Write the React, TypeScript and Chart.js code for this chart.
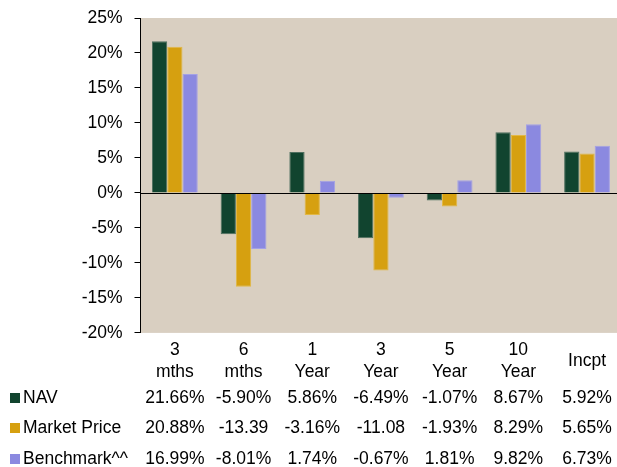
import React, { useEffect, useRef } from "react";
import { Chart, registerables } from "chart.js";

Chart.register(...registerables);

const categories: (string | string[])[] = [
  ["3", "mths"],
  ["6", "mths"],
  ["1", "Year"],
  ["3", "Year"],
  ["5", "Year"],
  ["10", "Year"],
  "Incpt",
];

const seriesNames = ["NAV", "Market Price", "Benchmark^^"];
const navValues = [21.66, -5.9, 5.86, -6.49, -1.07, 8.67, 5.92];
const marketValues = [20.88, -13.39, -3.16, -11.08, -1.93, 8.29, 5.65];
const benchValues = [16.99, -8.01, 1.74, -0.67, 1.81, 9.82, 6.73];

const navLabels = ["21.66%", "-5.90%", "5.86%", "-6.49%", "-1.07%", "8.67%", "5.92%"];
const marketLabels = ["20.88%", "-13.39", "-3.16%", "-11.08", "-1.93%", "8.29%", "5.65%"];
const benchLabels = ["16.99%", "-8.01%", "1.74%", "-0.67%", "1.81%", "9.82%", "6.73%"];

const yMin = -20;
const yMax = 25;
const yStep = 5;

const COLORS = ["#11442F", "#D6A010", "#8B89E0"];
const BORDERS = ["#4E6F5F", "#E2B845", "#A3A1E6"];
const BG = "#D9CFC1";
const FONT = "Liberation Sans, Arial, sans-serif";
const FS = 17.5;

export default function App() {
  const ref = useRef<HTMLCanvasElement | null>(null);

  useEffect(() => {
    if (!ref.current) return;
    const tableRows = [navLabels, marketLabels, benchLabels];

    const bgPlugin = {
      id: "bgPlugin",
      beforeDraw(chart: any) {
        const { ctx, chartArea } = chart;
        ctx.save();
        ctx.fillStyle = BG;
        ctx.fillRect(chartArea.left, chartArea.top, chartArea.right - chartArea.left, chartArea.bottom - chartArea.top);
        ctx.restore();
      },
      afterDatasetsDraw(chart: any) {
        const { ctx, chartArea, scales } = chart;
        const y0 = Math.round(scales.y.getPixelForValue(0)) + 0.5;
        ctx.save();
        ctx.strokeStyle = "#000";
        ctx.lineWidth = 1;
        ctx.beginPath();
        ctx.moveTo(chartArea.left, y0);
        ctx.lineTo(chartArea.right, y0);
        ctx.stroke();
        ctx.restore();
      },
      afterDraw(chart: any) {
        const { ctx, scales } = chart;
        const rowMid = [398, 428.5, 459];
        ctx.save();
        ctx.font = `${FS}px ${FONT}`;
        ctx.textBaseline = "middle";
        ctx.fillStyle = "#000";
        for (let r = 0; r < tableRows.length; r++) {
          const y = rowMid[r];
          ctx.fillStyle = COLORS[r];
          ctx.fillRect(10, Math.round(y - 5.5), 10, 10);
          ctx.fillStyle = "#000";
          ctx.textAlign = "left";
          ctx.fillText(seriesNames[r], 23, y);
          ctx.textAlign = "center";
          for (let i = 0; i < tableRows[r].length; i++) {
            const x = scales.x.getPixelForValue(i);
            ctx.fillText(tableRows[r][i], x, y);
          }
        }
        ctx.restore();
      },
    };

    const chart = new Chart(ref.current, {
      type: "bar",
      data: {
        labels: categories,
        datasets: [navValues, marketValues, benchValues].map((d, i) => ({
          label: seriesNames[i],
          data: d,
          backgroundColor: COLORS[i],
          borderColor: BORDERS[i],
          borderWidth: 1,
          categoryPercentage: 0.667,
          barPercentage: 1.0,
        })),
      },
      options: {
        animation: false,
        responsive: false,
        maintainAspectRatio: false,
        layout: { padding: { top: 18, left: 0, right: 0, bottom: 56 } },
        plugins: { legend: { display: false }, tooltip: { enabled: false } },
        scales: {
          x: {
            grid: { display: false, drawTicks: false },
            border: { display: false },
            ticks: {
              color: "#000",
              font: { family: FONT, size: FS, lineHeight: 1.26 },
              padding: 17,
              crossAlign: "center",
              maxRotation: 0,
              autoSkip: false,
            },
          },
          y: {
            min: yMin,
            max: yMax,
            grid: { drawOnChartArea: false, drawTicks: true, tickLength: 6, color: "#000" },
            border: { display: true, color: "#000", width: 1 },
            ticks: {
              stepSize: yStep,
              color: "#000",
              font: { family: FONT, size: FS },
              padding: 12,
              callback: (v: any) => `${v}%`,
            },
            afterFit(scale: any) {
              scale.width = 140.5;
              scale.paddingTop = 0;
              scale.paddingBottom = 0;
            },
          },
        },
      },
      plugins: [bgPlugin],
    });
    return () => chart.destroy();
  }, []);

  return (
    <div style={{ position: "absolute", left: 0, top: 0, width: 617, height: 467, overflow: "hidden", background: "#fff" }}>
      <canvas ref={ref} width={623} height={467} style={{ display: "block", width: 623, height: 467 }} />
    </div>
  );
}
